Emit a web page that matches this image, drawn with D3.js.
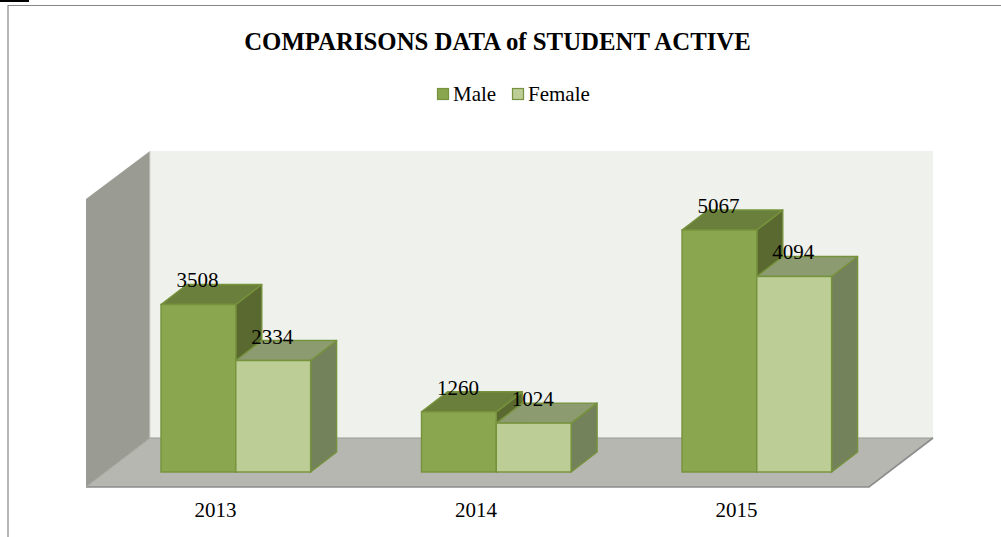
<!DOCTYPE html>
<html><head><meta charset="utf-8">
<script src="https://cdn.jsdelivr.net/npm/d3@7/dist/d3.min.js"></script>
<style>html,body{margin:0;padding:0;background:#fff}svg{display:block}
text{font-family:"Liberation Serif","Times New Roman",serif;fill:#000}</style></head>
<body><svg id="c" width="1001" height="537"></svg>
<script>
const categories = ["2013","2014","2015"];
const seriesNames = ["Male","Female"];
const male = [3508,1260,5067];
const female = [2334,1024,4094];
const title = "COMPARISONS DATA of STUDENT ACTIVE";

const svg = d3.select("#c");
const depthX = 26, depthY = -20;
const plot = {x0:86, x1:869, y0:487, top:199};
const bandW = 260.5;
const x = d3.scaleBand().domain(categories)
  .range([plot.x0, plot.x0 + 3*bandW]).paddingInner(0).paddingOuter(0);
const barW = 74.8;
const y = d3.scaleLinear().domain([0,5067]).range([472,230]);
const colors = {
  Male:{front:"#8aa64e",top:"#6b7f3c",side:"#59692f",stroke:"#76923c"},
  Female:{front:"#bccd96",top:"#8c9c70",side:"#74825c",stroke:"#76923c"}
};
const poly = pts => pts.map(p=>p.join(",")).join(" ");

// frame
svg.append("rect").attr("x",0).attr("y",0).attr("width",29).attr("height",2).attr("fill","#000");
svg.append("path").attr("d","M8 537V5.5H1001").attr("fill","none").attr("stroke","#868686").attr("stroke-width",1.2);

// walls
svg.append("polygon").attr("points",poly([[150,151],[933,151],[933,438],[150,438]])).attr("fill","#eff2ec");
svg.append("polygon").attr("points",poly([[86,199],[150,151],[150,438],[86,487]])).attr("fill","#9a9c94");
svg.append("line").attr("x1",150).attr("x2",150).attr("y1",151).attr("y2",438).attr("stroke","#d4d6d0").attr("stroke-width",1);
svg.append("polygon").attr("points",poly([[86,487],[869,487],[933,438],[150,438]])).attr("fill","#b5b7b0");
svg.append("path").attr("d","M150 438H933").attr("fill","none").attr("stroke","#999b95").attr("stroke-width",1);
svg.append("path").attr("d","M86 487H869L933 438").attr("fill","none").attr("stroke","#8c8c8c").attr("stroke-width",1.6);
svg.append("line").attr("x1",86).attr("x2",150).attr("y1",487).attr("y2",438).attr("stroke","#a4a69f").attr("stroke-width",1);

// bars
const rows = categories.flatMap((c,i)=>[
  {c,s:"Male",v:male[i],o:0},
  {c,s:"Female",v:female[i],o:1}
]);
const xLeft = d => x(d.c) + 75 + d.o*barW;
const g = svg.selectAll("g.bar").data(rows).join("g").attr("class","bar");
g.each(function(d){
  const s = d3.select(this), col = colors[d.s];
  const l = xLeft(d), r = l+barW, t = y(d.v), b = y(0);
  s.append("polygon").attr("points",poly([[r,t],[r+depthX,t+depthY],[r+depthX,b+depthY],[r,b]]))
    .attr("fill",col.side).attr("stroke",col.stroke).attr("stroke-width",1.4).attr("stroke-linejoin","round");
  s.append("polygon").attr("points",poly([[l,t],[l+depthX,t+depthY],[r+depthX,t+depthY],[r,t]]))
    .attr("fill",col.top).attr("stroke",col.stroke).attr("stroke-width",1.4).attr("stroke-linejoin","round");
  s.append("rect").attr("x",l).attr("y",t).attr("width",barW).attr("height",b-t)
    .attr("fill",col.front).attr("stroke",col.stroke).attr("stroke-width",1.4);
});
// value labels
svg.selectAll("text.val").data(rows).join("text").attr("class","val")
  .attr("x",d=>xLeft(d)+36.5)
  .attr("y",d=>y(d.v)-17)
  .attr("text-anchor","middle").attr("font-size",21)
  .text(d=>d.v);
// category labels
svg.selectAll("text.cat").data(categories).join("text").attr("class","cat")
  .attr("x",c=>x(c)+129.5).attr("y",517)
  .attr("text-anchor","middle").attr("font-size",21)
  .text(c=>c);
// title
svg.append("text").attr("x",497.5).attr("y",50).attr("text-anchor","middle")
  .attr("font-size",24.8).attr("font-weight","bold").text(title);
// legend
const legendX = [437.5,512.5], legendTextX=[453,528];
seriesNames.forEach((n,i)=>{
  svg.append("rect").attr("x",legendX[i]).attr("y",88.5).attr("width",11).attr("height",11)
    .attr("fill",colors[n].front).attr("stroke",colors[n].stroke).attr("stroke-width",1.2);
  svg.append("text").attr("x",legendTextX[i]).attr("y",101).attr("font-size",21).text(n);
});
</script></body></html>
